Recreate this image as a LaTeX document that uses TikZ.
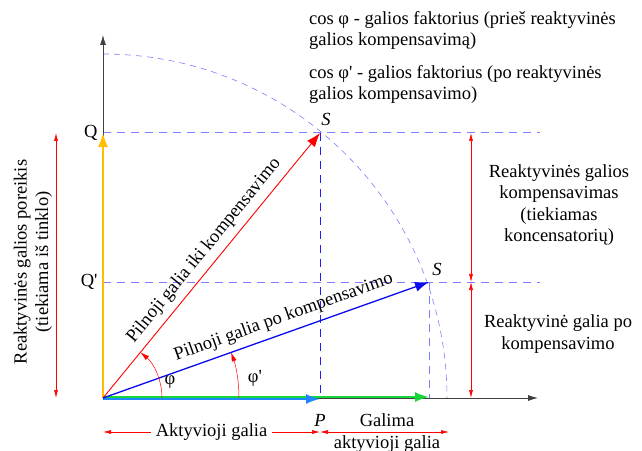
\documentclass[tikz,border=0pt]{standalone}
\usepackage{fontspec}
\setmainfont{Liberation Serif}
\usetikzlibrary{arrows.meta,positioning}

\definecolor{dimred}{RGB}{255,0,0}
\definecolor{guideblue}{RGB}{125,125,255}
\definecolor{darkguide}{RGB}{30,30,255}
\definecolor{qyellow}{RGB}{255,190,0}
\definecolor{pgreen}{RGB}{20,215,60}
\definecolor{pblue}{RGB}{30,135,255}
\definecolor{sblue}{RGB}{10,10,240}

\tikzset{
  vec/.style={-{Latex[length=14pt,width=10pt]},line width=1.2pt},
  axis/.style={-{Latex[length=10pt,width=6pt]},black!75,line width=0.8pt},
  dim/.style={{Latex[length=8pt,width=4pt]}-{Latex[length=8pt,width=4pt]},dimred,line width=0.6pt},
  guide/.style={guideblue,line width=1pt,dash pattern=on 8pt off 6pt},
  anglearc/.style={dimred,line width=0.5pt,-{Latex[length=9pt,width=5pt]}},
}

\begin{document}
\begin{tikzpicture}[x=1pt,y=1pt,font=\fontsize{18.5}{21.5}\selectfont]
\useasboundingbox (-103,-52) rectangle (539,398);

%points of the diagram
\coordinate (O) at (0,0);
\coordinate (Yend) at (0,363);
\coordinate (Xend) at (435,0);
\coordinate (Q) at (0,265);
\coordinate (Qp) at (0,116);
\coordinate (S) at (217,265);
\coordinate (Sp) at (326,116);
\coordinate (P) at (217,0);
\coordinate (Pp) at (326,0);
\coordinate (Qr) at (437,265);
\coordinate (Qpr) at (437,116);

%dashed guides
\draw[guide] (Q) -- (Qr);
\draw[guide] (Qp) -- (Qpr);
\draw[guide,darkguide] (S) -- (P);
\draw[guide] (Sp) -- (Pp);
\draw[guide,line width=0.6pt,dash pattern=on 6pt off 5pt] (0,344) arc (90:0:344);

%axes
\draw[axis] (O) -- (Yend);
\draw[axis] (O) -- (Xend);

%power vectors
\draw[vec,pgreen,line width=2pt] ([yshift=1pt]O) -- ([yshift=1pt]Pp);
\draw[vec,pblue,line width=2pt] ([yshift=-1pt]O) -- ([yshift=-1pt]P);
\draw[vec,qyellow,line width=1.6pt] (O) -- (Q);
\draw[vec,dimred,line width=0.9pt] (O) -- (S)
  node[pos=0.52,sloped,above=3pt,text=black] (tS) {Pilnoji galia iki kompensavimo};
\draw[vec,sblue,line width=1.3pt] (O) -- (Sp)
  node[pos=0.57,sloped,above=3pt,text=black] (tSp) {Pilnoji galia po kompensavimo};

%angles
\draw[anglearc] (59,0) arc (0:50.7:59);
\draw[anglearc] (136,0) arc (0:19.6:136);
\node (phi) at (67,16) {φ};
\node (phip) at (152,20) {φ\textquotesingle};

%point labels
\node[left=2pt] (lQ) at (Q) {Q};
\node[left=2pt] (lQp) at (Qp) {Q\textquotesingle};
\node (lS) at (223,279) {\textit{S}};
\node (lSp) at (334,129) {\textit{S}};
\node (lP) at (217,-22) {\textit{P}};

%dimension arrows
\coordinate (Lt) at (-47,265);
\coordinate (Lb) at (-47,0);
\draw[dim] (Lt) -- (Lb);
\node[rotate=90,align=center] (need) at (-70,136)
  {Reaktyvinės galios poreikis\\(tiekiama iš tinklo)};

\coordinate (Rt) at (368,265);
\coordinate (Rm) at (368,116);
\coordinate (Rb) at (368,0);
\draw[dim] (Rt) -- (Rm);
\draw[dim] (Rm) -- (Rb);
\node[align=center] (comp) at (456,193)
  {Reaktyvinės galios\\kompensavimas\\(tiekiamas\\koncensatorių)};
\node[align=center] (after) at (455,64)
  {Reaktyvinė galia po\\kompensavimo};

\coordinate (Bl) at (0,-34);
\coordinate (Bm) at (217,-34);
\coordinate (Br) at (346,-34);
\draw[dim] (Bl) -- (Bm) node[midway,fill=white,text=black,inner xsep=5pt,inner ysep=1pt] (act) {Aktyvioji galia};
\draw[dim] (Bm) -- (Br);
\node[align=center] (avail) at (284,-35) {Galima\\aktyvioji galia};

%power factor notes
\node[anchor=north west,align=left,inner sep=0pt] (note1) at (206,387)
  {cos φ - galios faktorius (prieš reaktyvinės\\galios kompensavimą)};
\node[anchor=north west,align=left,inner sep=0pt] (note2) at (206,333)
  {cos φ\textquotesingle{} - galios faktorius (po reaktyvinės\\galios kompensavimo)};
\end{tikzpicture}
\end{document}
